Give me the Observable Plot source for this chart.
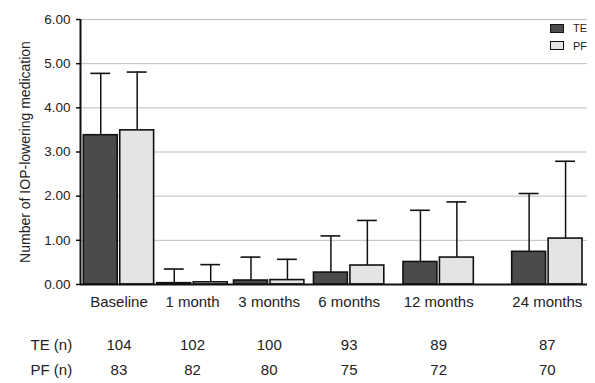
<!DOCTYPE html>
<html>
<head>
<meta charset="utf-8">
<script src="https://cdn.jsdelivr.net/npm/d3@7"></script>
<script src="https://cdn.jsdelivr.net/npm/@observablehq/plot@0.6"></script>
<style>
  body { margin: 0; background: #fff; }
  #wrap { position: relative; width: 595px; height: 383px; font-family: "Liberation Sans", Arial, sans-serif; }
  .leg { position: absolute; left: 550px; display: flex; align-items: center; font-size: 11px; color: #222; }
  .leg .sw { width: 12px; height: 7px; border: 1.5px solid #111; margin-right: 9px; }
</style>
</head>
<body>
<div id="wrap"></div>
<script>
// ---- data ----
const categories = ["Baseline", "1 month", "3 months", "6 months", "12 months", "24 months"];
const months = [0, 1, 3, 6, 12, 24];
const teMean = [3.38, 0.03, 0.09, 0.27, 0.51, 0.74];
const teSD   = [1.40, 0.32, 0.53, 0.83, 1.17, 1.32];
const pfMean = [3.49, 0.05, 0.10, 0.43, 0.61, 1.04];
const pfSD   = [1.32, 0.40, 0.47, 1.02, 1.26, 1.75];
const teN = [104, 102, 100, 93, 89, 87];
const pfN = [83, 82, 80, 75, 72, 70];
const yTicks = [0, 1, 2, 3, 4, 5, 6];
const yLabel = "Number of IOP-lowering medication";
const seriesNames = ["TE", "PF"];
const rowLabels = ["TE (n)", "PF (n)"];

// ---- layout (groups separated by gaps proportional to follow-up interval) ----
const groupW = 22, barW = 10.6, capHalf = 3.1;
const groupStart = categories.map((c, i) => i * groupW + months[i]);
const rows = [];
categories.forEach((c, i) => {
  const g = groupStart[i];
  rows.push({cat: c, s: "TE", x1: g, x2: g + barW, mean: teMean[i], top: teMean[i] + teSD[i]});
  rows.push({cat: c, s: "PF", x1: g + groupW - barW, x2: g + groupW, mean: pfMean[i], top: pfMean[i] + pfSD[i]});
});
rows.forEach(r => r.cx = (r.x1 + r.x2) / 2);
const groups = categories.map((c, i) => ({cat: c, cx: groupStart[i] + groupW / 2, te: teN[i], pf: pfN[i]}));
const xDom = [-1.03, groupStart[5] + groupW + 1.56];
const color = {TE: "#4b4b4b", PF: "#e4e4e4"};
const font = "Liberation Sans, Arial, sans-serif";

const chart = Plot.plot({
  width: 595,
  height: 383,
  marginLeft: 80,
  marginRight: 8,
  marginTop: 19,
  marginBottom: 99,
  style: {fontFamily: font, fontSize: "13px", color: "#222", background: "#fff"},
  x: {domain: xDom, axis: null},
  y: {domain: [0, 6], axis: null},
  marks: [
    Plot.gridY(yTicks.filter(d => d > 0), {stroke: "#bdbdbd", strokeOpacity: 1, strokeWidth: 1}),
    Plot.axisY(yTicks, {tickFormat: d3.format(".2f"), tickSize: 4, tickPadding: 6, fontSize: 13.5, stroke: "#111", strokeWidth: 1.5, label: null}),
    Plot.text([yLabel], {frameAnchor: "left", textAnchor: "middle", rotate: -90, dx: -55, fontSize: 14, fill: "#222"}),
    Plot.rect(rows, {x1: "x1", x2: "x2", y1: 0, y2: "mean", fill: d => color[d.s], stroke: "#111", strokeWidth: 1.6}),
    Plot.ruleX(rows, {x: "cx", y1: "mean", y2: "top", stroke: "#111", strokeWidth: 1.5}),
    Plot.ruleY(rows, {y: "top", x1: d => d.cx - capHalf, x2: d => d.cx + capHalf, stroke: "#111", strokeWidth: 1.6}),
    Plot.ruleX([xDom[0]], {y1: 0, y2: 6, stroke: "#111", strokeWidth: 2}),
    Plot.ruleY([0], {stroke: "#111", strokeWidth: 2}),
    Plot.text(groups, {x: "cx", text: "cat", frameAnchor: "bottom", dy: 22, fontSize: 15, fill: "#222"}),
    Plot.text(groups, {x: "cx", text: "te", frameAnchor: "bottom", dy: 65, fontSize: 15, fill: "#222"}),
    Plot.text(groups, {x: "cx", text: "pf", frameAnchor: "bottom", dy: 90, fontSize: 15, fill: "#222"}),
    Plot.text([rowLabels[0]], {frameAnchor: "bottom-left", textAnchor: "start", dx: -50, dy: 65, fontSize: 15, fill: "#222"}),
    Plot.text([rowLabels[1]], {frameAnchor: "bottom-left", textAnchor: "start", dx: -50, dy: 90, fontSize: 15, fill: "#222"})
  ]
});

const wrap = document.getElementById("wrap");
wrap.appendChild(chart);
seriesNames.forEach((s, i) => {
  const d = document.createElement("div");
  d.className = "leg";
  d.style.top = (22 + i * 17.5) + "px";
  d.innerHTML = `<span class="sw" style="background:${color[s]}"></span><span>${s}</span>`;
  wrap.appendChild(d);
});
</script>
</body>
</html>
